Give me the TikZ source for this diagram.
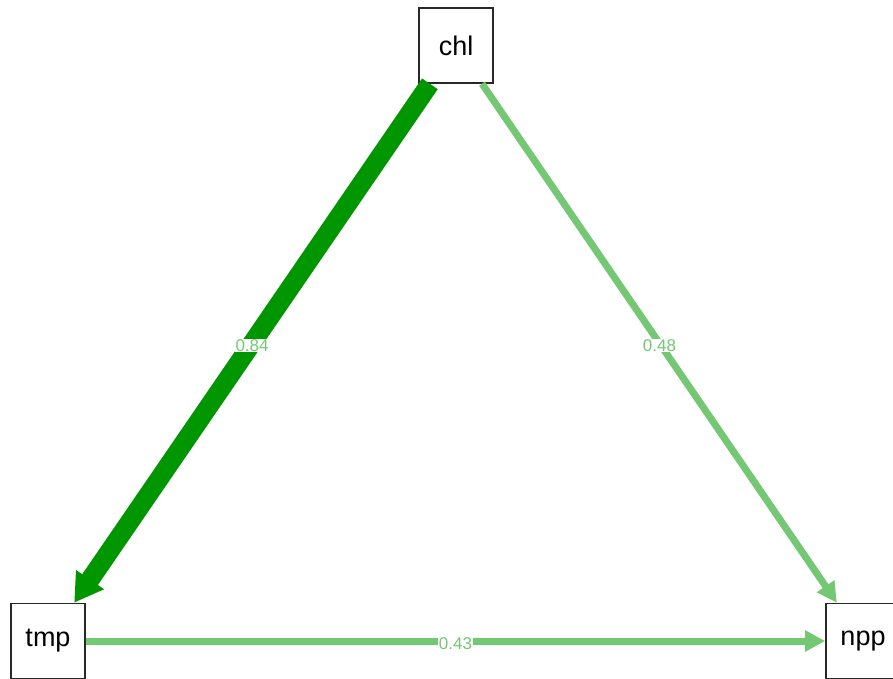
\documentclass[tikz,border=0pt]{standalone}
\usepackage{fontspec}
\setmainfont{Liberation Sans}
\usetikzlibrary{arrows.meta}
\definecolor{dkgreen}{RGB}{0,150,0}
\definecolor{ltgreen}{RGB}{116,200,116}
\definecolor{boxgray}{RGB}{40,40,40}
\begin{document}
\begin{tikzpicture}[x=1pt,y=-1pt,
  var/.style={draw=boxgray,line width=1.6pt,fill=white,minimum width=74pt,minimum height=75pt,inner sep=0pt,font=\fontsize{27}{27}\selectfont},
  lab/.style={fill=white,inner sep=0.5pt,font=\fontsize{17}{17}\selectfont},
  strong/.style={draw=dkgreen,line width=19pt,-{Triangle[length=28pt,width=32pt]}},
  weak/.style={draw=ltgreen,line width=7pt,-{Triangle[length=20pt,width=20pt]}}]
\useasboundingbox (0,0) rectangle (893,679);
\clip (0,0) rectangle (893,679);
\fill[white] (0,0) rectangle (893,679);
\node[var] (chl) at (456,45.5) {chl};
\node[var] (tmp) at (48,641) {tmp};
\node[var] (npp) at (863,641) {npp};
\draw[strong] (chl) -- node[lab,text=ltgreen,yshift=-2pt] {0.84} (tmp);
\draw[weak] (chl) -- node[lab,text=ltgreen,yshift=-2pt] {0.48} (npp);
\draw[weak] (tmp) -- node[lab,text=ltgreen,yshift=-3pt] {0.43} (npp);
\end{tikzpicture}
\end{document}
